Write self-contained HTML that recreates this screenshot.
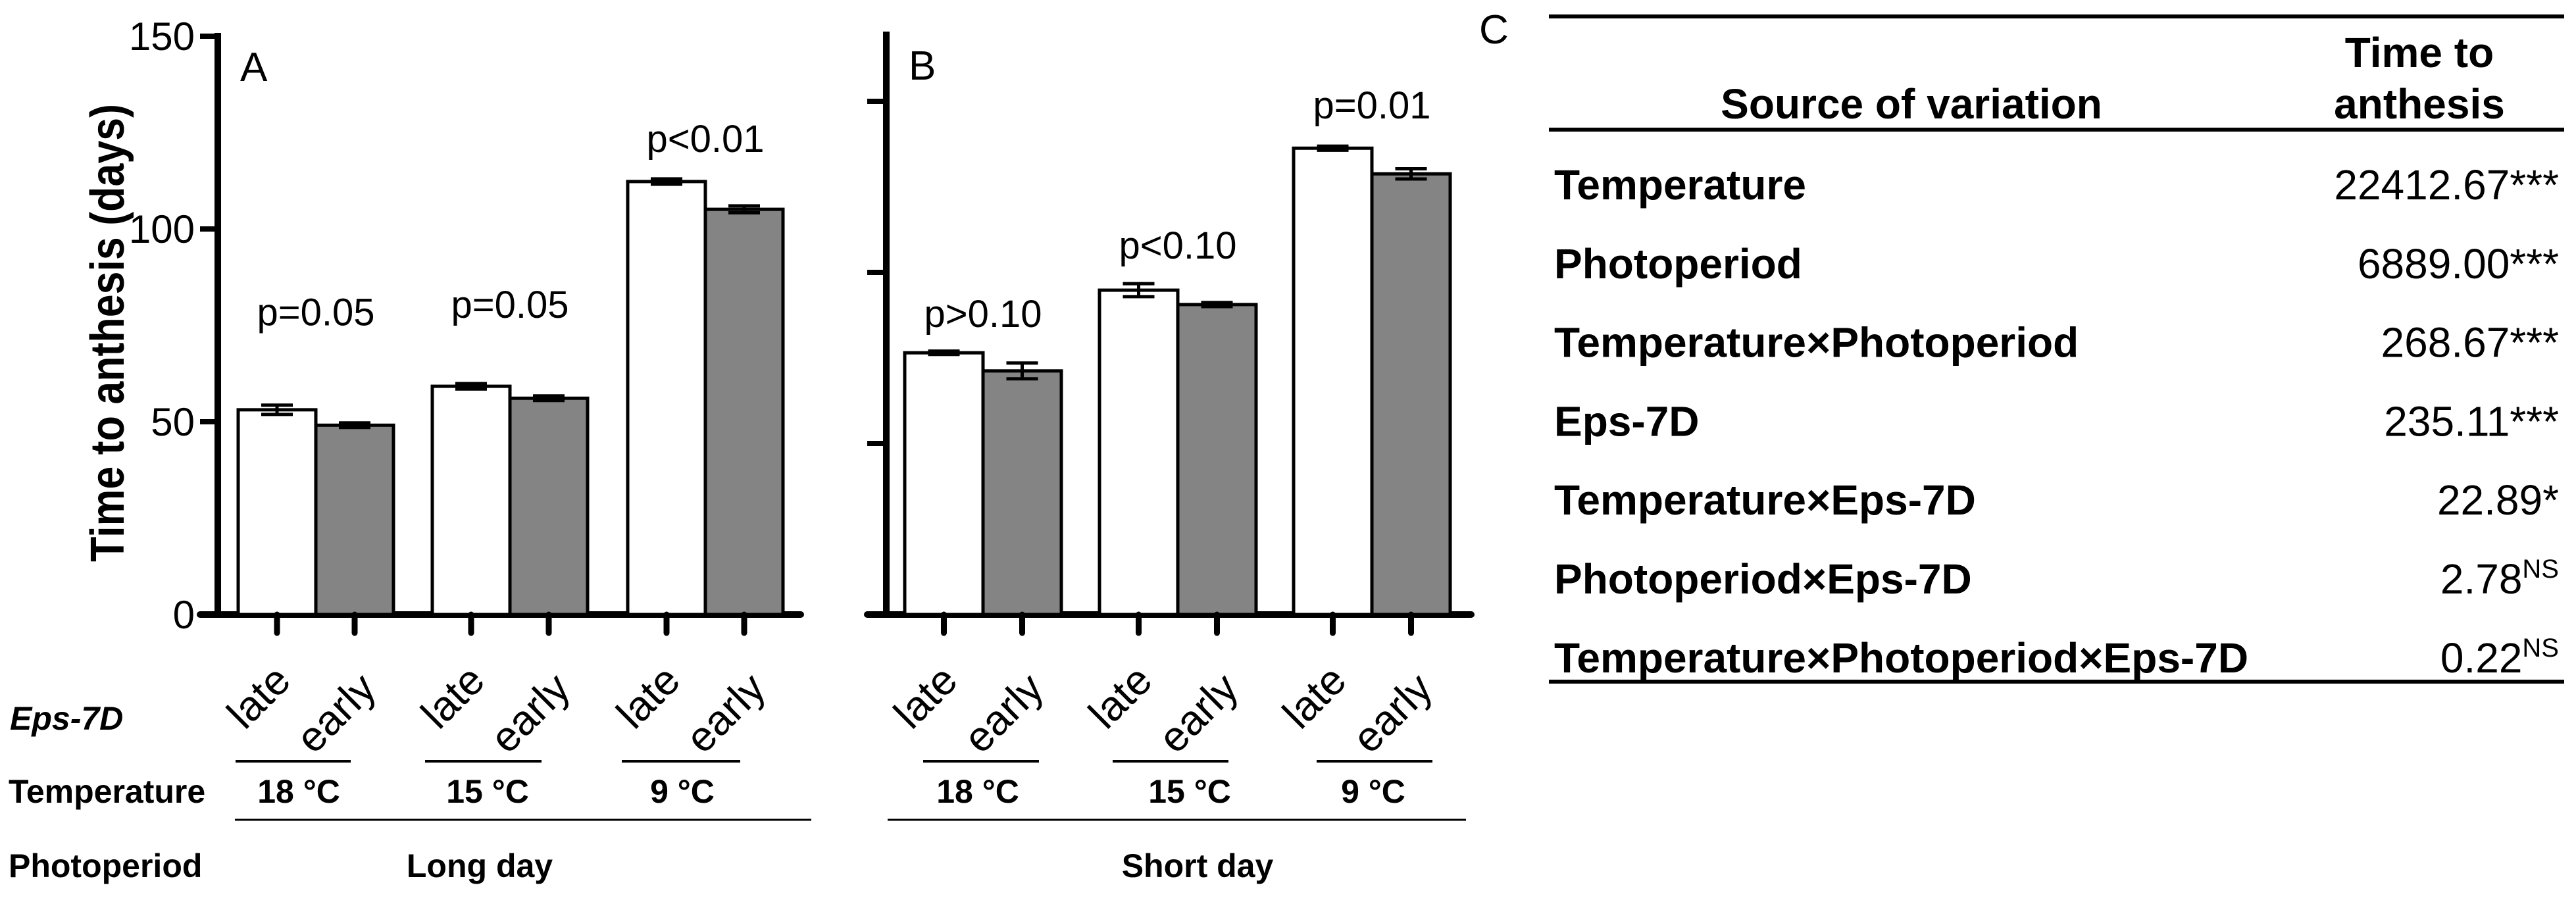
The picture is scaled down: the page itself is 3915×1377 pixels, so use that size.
<!DOCTYPE html>
<html><head><meta charset="utf-8"><style>
html,body{margin:0;padding:0;background:#fff;}
svg{display:block;font-family:"Liberation Sans",Arial,sans-serif;}
</style></head><body>
<svg id="fig" width="3915" height="1377" viewBox="0 0 3915 1377" xmlns="http://www.w3.org/2000/svg">
<rect x="0" y="0" width="3915" height="1377" fill="#fff"/>
<g id="panelA"></g>
<g id="panelB"></g>
<g id="tableC"></g>
</svg>
<script>
const NS="http://www.w3.org/2000/svg";
// ---- data ----
const groupsA=["18 °C","15 °C","9 °C"];
const lateA=[53.1,59.2,112.3];
const earlyA=[49.1,56.1,105.1];
const lateErrA=[1.2,0.7,0.7];
const earlyErrA=[0.6,0.6,0.9];
const pLabelsA=["p=0.05","p=0.05","p<0.01"];
const pLevelA=[75,77,120];
const ticksA=[0,50,100,150];

const groupsB=["18 °C","15 °C","9 °C"];
const lateB=[76.5,94.8,136.3];
const earlyB=[71.2,90.6,128.8];
const lateErrB=[0.5,1.9,0.6];
const earlyErrB=[2.3,0.6,1.5];
const pLabelsB=["p>0.10","p<0.10","p=0.01"];
const pLevelB=[84,104,145];
const ticksB=[50,100,150];

const sources=["Temperature","Photoperiod","Temperature×Photoperiod","Eps-7D","Temperature×Eps-7D","Photoperiod×Eps-7D","Temperature×Photoperiod×Eps-7D"];
const values=["22412.67","6889.00","268.67","235.11","22.89","2.78","0.22"];
const signif=["***","***","***","***","*","NS","NS"];

function mk(tag,attrs,parent,text){const e=document.createElementNS(NS,tag);for(const k in attrs)e.setAttribute(k,attrs[k]);if(text!==undefined)e.textContent=text;parent.appendChild(e);return e;}

function drawPanel(g,cfg){
  const y=v=>cfg.y0-(v/cfg.unit)*cfg.pxPerUnit;
  let ax=mk("line",{x1:cfg.axX,y1:cfg.axTop,x2:cfg.axX,y2:cfg.y0+5,stroke:"#000","stroke-width":10},g);
  
  
  let xa=mk("line",{x1:cfg.xStart,y1:cfg.y0,x2:cfg.xEnd,y2:cfg.y0,stroke:"#000","stroke-width":10,"stroke-linecap":"round"},g);
  
  
  cfg.ticks.forEach(t=>{
    const tl=mk("line",{x1:cfg.xStart,y1:y(t),x2:cfg.axX,y2:y(t),stroke:"#000","stroke-width":8},g);
    
    
    if(cfg.showTickLabels){
      const tx=mk("text",{x:296,y:y(t)+21,"text-anchor":"end","font-size":60},g,String(t));
      
      
    }
  });
  const bw=cfg.barW;
  cfg.late.forEach((v,i)=>{
    const gx=cfg.groupLeft[i];
    const series=[[v,cfg.lateErr[i],"#fff","late"],[cfg.early[i],cfg.earlyErr[i],"#848484","early"]];
    series.forEach((s,j)=>{
      const x=gx+j*bw;
      const r=mk("rect",{x:x,y:y(s[0]),width:bw,height:cfg.y0-y(s[0]),fill:s[2],stroke:"#000","stroke-width":5},g);
      
      
      const cx=x+bw/2;
      const e=mk("path",{d:`M${cx-24},${y(s[0]+s[1])}H${cx+24}M${cx},${y(s[0]+s[1])}V${y(s[0]-s[1])}M${cx-24},${y(s[0]-s[1])}H${cx+24}`,stroke:"#000","stroke-width":5,fill:"none"},g);
      
      
      const tk=mk("line",{x1:cx,y1:cfg.y0,x2:cx,y2:cfg.y0+28,stroke:"#000","stroke-width":9,"stroke-linecap":"round"},g);
      
      
      const ax2=cx+(j===0?24:36), ay2=(j===0?1038:1050);
      const lb=mk("text",{x:ax2,y:ay2,"text-anchor":"end","font-size":64,transform:`rotate(-45 ${ax2} ${ay2})`},g,s[3]);
      
      
    });
    const pt=mk("text",{x:gx+bw,y:y(cfg.pLevel[i]),"text-anchor":"middle","font-size":58},g,cfg.pLabels[i]);
    
    
    const tl=mk("line",{x1:cfg.tempLine[i][0],y1:1157,x2:cfg.tempLine[i][1],y2:1157,stroke:"#000","stroke-width":4},g);
    
    
    const tt=mk("text",{x:cfg.tempX[i],y:1220,"text-anchor":"middle","font-size":50,"font-weight":"bold"},g,cfg.groups[i]);
    
    
  });
  const pl=mk("line",{x1:cfg.photoLine[0],y1:1246,x2:cfg.photoLine[1],y2:1246,stroke:"#000","stroke-width":3},g);
  
  
  const pt2=mk("text",{x:cfg.photoX,y:1333,"text-anchor":"middle","font-size":50,"font-weight":"bold"},g,cfg.photo);
  
  
  const pl2=mk("text",{x:cfg.letter[1],y:cfg.letter[2],"font-size":62},g,cfg.letter[0]);
  
  
}

const A=document.getElementById("panelA");
drawPanel(A,{y0:934,unit:50,pxPerUnit:293,axX:331,axTop:50,xStart:304,xEnd:1217,ticks:ticksA,showTickLabels:true,
  barW:118,groupLeft:[362,657,954],late:lateA,early:earlyA,lateErr:lateErrA,earlyErr:earlyErrA,pLabels:pLabelsA,pLevel:pLevelA,
  groups:groupsA,tempLine:[[358,533],[646,823],[945,1125]],tempX:[454,741,1037],photoLine:[357,1233],photoX:729,photo:"Long day",letter:["A",365,123]});
const B=document.getElementById("panelB");
drawPanel(B,{y0:934,unit:50,pxPerUnit:260,axX:1347,axTop:48,xStart:1318,xEnd:2236,ticks:ticksB,showTickLabels:false,
  barW:119,groupLeft:[1375,1671,1966],late:lateB,early:earlyB,lateErr:lateErrB,earlyErr:earlyErrB,pLabels:pLabelsB,pLevel:pLevelB,
  groups:groupsB,tempLine:[[1403,1579],[1691,1867],[2001,2177]],tempX:[1486,1808,2087],photoLine:[1349,2228],photoX:1820,photo:"Short day",letter:["B",1381,121]});

let yt=mk("text",{x:0,y:0,"text-anchor":"middle","font-size":72,"font-weight":"bold",textLength:696,lengthAdjust:"spacingAndGlyphs",transform:"translate(188 506) rotate(-90)"},A,"Time to anthesis (days)");


let e1=mk("text",{x:15,y:1109,"font-size":50,"font-weight":"bold","font-style":"italic"},A,"Eps-7D");


let e2=mk("text",{x:13,y:1220,"font-size":50,"font-weight":"bold"},A,"Temperature");


let e3=mk("text",{x:13,y:1333,"font-size":50,"font-weight":"bold"},A,"Photoperiod");



const C=document.getElementById("tableC");
let cl=mk("text",{x:2248,y:66,"font-size":62},C,"C");


[[25,6],[197,6],[1036,6]].forEach(l=>{
  const ln=mk("line",{x1:2354,y1:l[0],x2:3897,y2:l[0],stroke:"#000","stroke-width":l[1]},C);
  
  
});
let h1=mk("text",{x:2905,y:180,"text-anchor":"middle","font-size":64,"font-weight":"bold"},C,"Source of variation");


let h2=mk("text",{x:3677,y:102,"text-anchor":"middle","font-size":64,"font-weight":"bold"},C,"Time to");


let h3=mk("text",{x:3677,y:180,"text-anchor":"middle","font-size":64,"font-weight":"bold"},C,"anthesis");


sources.forEach((s,i)=>{
  const by=303+i*119.8;
  const t=mk("text",{x:2362,y:by,"font-size":64,"font-weight":"bold"},C,s);
  
  
  const v=mk("text",{x:3889,y:by,"text-anchor":"end","font-size":64},C);
  
  
  const a=document.createElementNS(NS,"tspan");a.textContent=values[i];v.appendChild(a);
  const b=document.createElementNS(NS,"tspan");b.textContent=signif[i];
  if(signif[i]==="NS"){b.setAttribute("font-size","40");b.setAttribute("dy","-24");}
  v.appendChild(b);
});
</script>
</body></html>
